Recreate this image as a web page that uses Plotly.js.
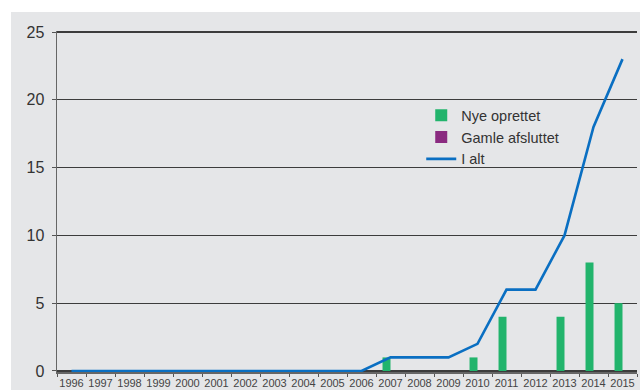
<!DOCTYPE html>
<html>
<head>
<meta charset="utf-8">
<script src="https://cdn.plot.ly/plotly-3.0.1.min.js"></script>
<style>html,body{margin:0;padding:0;background:#fff;}#chart{width:640px;height:390px;}</style>
</head>
<body>
<div id="chart"></div>
<script>
const years = ['1996','1997','1998','1999','2000','2001','2002','2003','2004','2005','2006','2007','2008','2009','2010','2011','2012','2013','2014','2015'];
const nyeOprettet = [0,0,0,0,0,0,0,0,0,0,0,1,0,0,1,4,0,4,8,5];
const gamleAfsluttet = [0,0,0,0,0,0,0,0,0,0,0,0,0,0,0,0,0,0,0,0];
const iAlt = [0,0,0,0,0,0,0,0,0,0,0,1,1,1,2,6,6,10,18,23];
const seriesNames = ['Nye oprettet','Gamle afsluttet','I alt'];

const data = [
  {type:'bar', x: years, y: nyeOprettet, name: seriesNames[0], marker:{color:'#22b46c'}},
  {type:'bar', x: years, y: gamleAfsluttet, name: seriesNames[1], marker:{color:'#8a2a80'}},
  {type:'scatter', mode:'lines', x: years, y: iAlt, name: seriesNames[2], line:{color:'#0a6fc2', width:2.6}}
];

const layout = {
  width: 640, height: 390,
  margin: {l:57, r:3, t:31, b:18},
  paper_bgcolor: '#ffffff',
  plot_bgcolor: '#ffffff',
  font: {family:'Liberation Sans, Arial, sans-serif', color:'#333'},
  barmode: 'group',
  bargap: 0.45,
  bargroupgap: 0,
  showlegend: true,
  legend: {x:0.628, y:0.80, xanchor:'left', yanchor:'top', bgcolor:'rgba(0,0,0,0)', font:{size:14.5, color:'#333'}, tracegroupgap:0},
  xaxis: {
    type:'category', tickson:'boundaries', ticks:'outside', ticklen:3, tickcolor:'#555',
    tickangle:0, ticklabelstandoff:0,
    showline:true, linecolor:'#666', linewidth:1.5, showgrid:false,
    tickfont:{size:11, color:'#444'}, fixedrange:true
  },
  yaxis: {
    range:[-0.075, 25.075], tickvals:[0,5,10,15,20,25], ticktext:['0','5','10','15','20','25'],
    ticks:'outside', ticklen:4, tickcolor:'#555', ticklabelstandoff:4,
    showline:true, linecolor:'#666', linewidth:1.5,
    showgrid:true, gridcolor:'#3c3c3c', gridwidth:1.2, zeroline:false,
    tickfont:{size:16, color:'#333'}
  },
  shapes: [
    {type:'rect', xref:'paper', yref:'paper', x0:-0.0793, x1:1.006, y0:-0.053, y1:1.0557, fillcolor:'#e5e6e8', line:{width:0}, layer:'below'}
  ]
};

Plotly.newPlot('chart', data, layout, {displayModeBar:false, staticPlot:true});
</script>
</body>
</html>
